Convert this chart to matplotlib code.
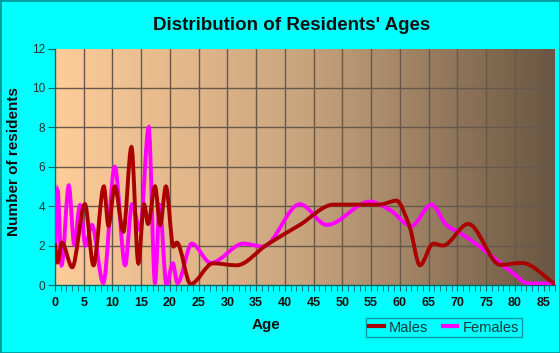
import numpy as np
import matplotlib
matplotlib.use("Agg")
import matplotlib.pyplot as plt
from matplotlib.path import Path
from matplotlib.patches import PathPatch, Rectangle
from matplotlib.lines import Line2D
from matplotlib.colors import LinearSegmentedColormap

plt.rcParams['font.family'] = ['Liberation Sans', 'DejaVu Sans']

# values (age, number of residents)
male_ages = [0, 0.45, 1.2, 3.0, 5.2, 6.7, 8.5, 9.3, 10.4, 11.9, 13.3, 14.5, 15.5, 16.2,
             17.4, 18.3, 19.3, 20.6, 21.2, 23.6, 27.5, 31.6, 36.8, 42.6, 48.5, 56.5,
             59.4, 61.7, 63.5, 65.8, 67.5, 71.9, 77.5, 81.2, 87]
male_vals = [2.1, 1.15, 2.15, 0.9, 4.1, 1.0, 5.0, 3.0, 5.0, 2.7, 7.0, 1.1, 4.1, 3.1,
             5.0, 3.05, 5.0, 1.95, 2.15, 0.05, 1.1, 1.0, 2.03, 3.05, 4.08, 4.08,
             4.28, 2.96, 1.0, 2.1, 2.0, 3.1, 1.02, 1.12, 0.05]

female_ages = [0, 0.45, 1.15, 2.4, 3.35, 4.35, 5.3, 6.4, 8.4, 10.4, 12.2, 13.4, 14.8,
               16.3, 17.4, 18.2, 19.4, 20.5, 21.3, 23.8, 27.1, 32.8, 36.2, 42.6, 47.3,
               54.8, 58.3, 62.0, 65.5, 68.1, 71.0, 73.9, 76.8, 79.7, 82.3, 87]
female_vals = [1.2, 4.8, 1.0, 5.05, 2.05, 4.05, 2.0, 3.05, 0.1, 6.0, 1.0, 4.1, 2.8,
               8.0, 0.1, 4.05, 0.0, 1.1, 0.1, 2.1, 1.12, 2.1, 1.95, 4.1, 3.05,
               4.23, 3.8, 3.0, 4.08, 3.05, 2.54, 1.95, 1.27, 0.6, 0.08, 0.08]

x_ticks = list(range(0, 90, 5))
y_ticks = [0, 2, 4, 6, 8, 10, 12]


def smooth_path(x, y):
    # monotone cubic (Fritsch-Carlson) tangents, drawn as bezier segments
    x = np.asarray(x, float)
    y = np.asarray(y, float)
    h = np.diff(x)
    d = np.diff(y) / h
    m = np.zeros(len(x))
    m[0] = d[0]
    m[-1] = d[-1]
    for k in range(1, len(x) - 1):
        if d[k - 1] * d[k] <= 0:
            m[k] = 0.0
        else:
            w1 = 2 * h[k] + h[k - 1]
            w2 = h[k] + 2 * h[k - 1]
            m[k] = (w1 + w2) / (w1 / d[k - 1] + w2 / d[k])
    verts = [(x[0], y[0])]
    codes = [Path.MOVETO]
    for i in range(len(x) - 1):
        verts += [(x[i] + h[i] / 3, y[i] + m[i] * h[i] / 3),
                  (x[i + 1] - h[i] / 3, y[i + 1] - m[i + 1] * h[i] / 3),
                  (x[i + 1], y[i + 1])]
        codes += [Path.CURVE4] * 3
    return Path(verts, codes)


fig = plt.figure(figsize=(5.6, 3.53), dpi=100)
fig.patch.set_facecolor('#00ffff')
fig.patches.append(Rectangle((0, 0), 1, 1, transform=fig.transFigure, fill=False,
                             edgecolor='#009a9a', linewidth=2))

ax = fig.add_axes([55 / 560, 68 / 353, 500 / 560, 236.5 / 353])
xmax, ymax = 87, 12

cmap = LinearSegmentedColormap.from_list('bg', ['#ffcc99', '#c8a47e', '#6a5642'])
ax.imshow(np.linspace(0, 1, 256).reshape(1, -1), cmap=cmap, aspect='auto',
          extent=[0, xmax, 0, ymax], zorder=0)

for xv in x_ticks[1:]:
    ax.axvline(xv, color='#66594c', lw=1, zorder=1)
for yv in y_ticks[1:-1]:
    ax.axhline(yv, color='#66594c', lw=1, zorder=1)

ax.add_patch(PathPatch(smooth_path(female_ages, female_vals), fill=False,
                       edgecolor='#ff00ff', lw=2.8, zorder=3))
ax.add_patch(PathPatch(smooth_path(male_ages, male_vals), fill=False,
                       edgecolor='#aa0000', lw=2.8, zorder=4))

ax.set_xlim(0, xmax)
ax.set_ylim(0, ymax)
ax.set_xticks(x_ticks)
ax.set_xticks(range(0, 88), minor=True)
ax.set_yticks(y_ticks)
ax.set_xticklabels([str(v) for v in x_ticks], fontsize=9, fontweight='bold')
ax.set_yticklabels([str(v) for v in y_ticks], fontsize=8.5)

for s in ['top', 'right']:
    ax.spines[s].set_visible(False)
for s in ['left', 'bottom']:
    ax.spines[s].set_color('#006666')
    ax.spines[s].set_linewidth(1)
ax.tick_params(axis='x', which='both', direction='out', colors='#006666',
               labelcolor='#111111', length=4, pad=5)
ax.tick_params(axis='y', direction='out', colors='#006666', labelcolor='#223333',
               length=5, pad=2)

fig.text(292 / 560, 1 - 25 / 353, "Distribution of Residents' Ages", ha='center',
         va='center', fontsize=13.5, fontweight='bold', color='#111111')
fig.text(266 / 560, 1 - 325 / 353, 'Age', ha='center', va='center', fontsize=11,
         fontweight='bold', color='#111111')
fig.text(14 / 560, 1 - 162 / 353, 'Number of residents', ha='center', va='center',
         rotation=90, fontsize=11, fontweight='bold', color='#111111')

handles = [Line2D([], [], color='#aa0000', lw=3),
           Line2D([], [], color='#ff00ff', lw=3)]
leg = fig.legend(handles, ['Males', 'Females'], loc='center',
                 bbox_to_anchor=(444 / 560, 1 - 327.5 / 353), ncol=2, fontsize=10.5,
                 frameon=True, fancybox=False, handlelength=1.0, handletextpad=0.35,
                 columnspacing=1.0, borderpad=0.2, borderaxespad=0)
leg.get_frame().set_facecolor('#00ffff')
leg.get_frame().set_edgecolor('#008080')
leg.get_frame().set_linewidth(1)
for t in leg.get_texts():
    t.set_color('#1a3a3a')

fig.savefig('out.png', dpi=100, facecolor=fig.get_facecolor())
